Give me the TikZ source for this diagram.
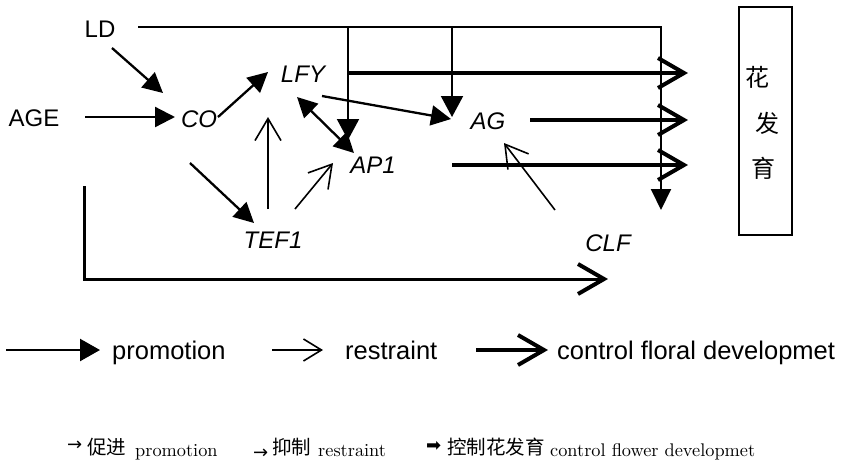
\documentclass[tikz,border=0pt]{standalone}
\usepackage{fontspec}
\setmainfont{Liberation Sans}
\newfontfamily\cjk{Noto Sans CJK SC}
\newfontfamily\lmr{lmroman10-regular}[Extension=.otf]
\newfontfamily\symf{DejaVu Sans}
\usetikzlibrary{arrows.meta}
\begin{document}
\begin{tikzpicture}[x=1pt,y=-1pt,
  lbl/.style={font=\fontsize{24}{24}\selectfont, inner sep=0pt},
  gene/.style={font=\fontsize{24}{24}\selectfont\itshape, inner sep=0pt},
  leg/.style={font=\fontsize{25.5}{26}\selectfont, inner sep=0pt, anchor=base west},
  leg2/.style={font=\fontsize{18.3}{19}\selectfont\lmr, inner sep=0pt, anchor=base west},
  cjkt/.style={font=\fontsize{19.5}{20}\selectfont\cjk, inner sep=0pt, anchor=west},
  promo/.style={line width=2.3pt, line join=miter, -{Triangle[length=20pt,width=20pt]}},
  promo2/.style={line width=2.3pt, {Triangle[length=20pt,width=20pt]}-{Triangle[length=20pt,width=20pt]}},
  restr/.style={line width=1.6pt, -{Straight Barb[length=22pt,width=26pt,line width=1.6pt]}},
  ctrl/.style={line width=4pt, line join=miter, -{Straight Barb[length=26pt,width=30pt,line width=4pt]}},
  thinl/.style={line width=2pt, line join=miter},
]
\useasboundingbox (0,0) rectangle (846,467);

% labels
\node[lbl]  (LD)  at (100,29)  {LD};
\node[lbl]  (AGE) at (34,118)  {AGE};
\node[gene] (CO)  at (199,119) {CO};
\node[gene] (LFY) at (303,74)  {LFY};
\node[gene] (AP1) at (373,165) {AP1};
\node[gene] (TEF) at (273,240) {TEF1};
\node[gene] (AG)  at (488,121) {AG};
\node[gene] (CLF) at (608,243) {CLF};

% box
\node[draw, line width=1.2pt, minimum width=53pt, minimum height=228pt, inner sep=0pt] (box) at (765.5,121) {};
\node[font=\fontsize{24}{24}\selectfont\cjk, inner sep=0pt] (h1) at (757,77)  {花};
\node[font=\fontsize{24}{24}\selectfont\cjk, inner sep=0pt] (h2) at (767,123) {发};
\node[font=\fontsize{24}{24}\selectfont\cjk, inner sep=0pt] (h3) at (763,168) {育};

% coordinates
\coordinate (ldS) at (138,27);
\coordinate (ldE) at (661,210);
\coordinate (b1) at (348,27);
\coordinate (b1e) at (348,140);
\coordinate (b2) at (452,27);
\coordinate (b2e) at (452,117);
\coordinate (lfyS) at (348,73);
\coordinate (lfyE) at (688,73);
\coordinate (agS) at (530,120);
\coordinate (agE) at (688,120);
\coordinate (ap1S) at (452,165);
\coordinate (ap1E) at (688,165);
\coordinate (lfyAgS) at (322,96);
\coordinate (lfyAgE) at (451,119);
\coordinate (lfyApA) at (297,97);
\coordinate (lfyApB) at (354,153);
\coordinate (ageS) at (85,117);
\coordinate (ageE) at (175,117);
\coordinate (ldcS) at (112,48);
\coordinate (ldcE) at (163,93);
\coordinate (coLS) at (218,117);
\coordinate (coLE) at (268,72);
\coordinate (coTS) at (190,163);
\coordinate (coTE) at (254,223);
\coordinate (tLS) at (268,209);
\coordinate (tLE) at (268,117);
\coordinate (tAS) at (295,209);
\coordinate (tAE) at (333,163);
\coordinate (cAS) at (555,210);
\coordinate (cAE) at (504,143);
\coordinate (botS) at (84,186);
\coordinate (botE) at (608,279);

% connectors
\draw[thinl, -{Triangle[length=21pt,width=20pt]}] (ldS) -| (ldE);
\draw[thinl, -{Triangle[length=21pt,width=22pt]}] (b1) -- (b1e);
\draw[thinl, -{Triangle[length=21pt,width=22pt]}] (b2) -- (b2e);
\draw[ctrl] (lfyS) -- (lfyE);
\draw[ctrl] (agS) -- (agE);
\draw[ctrl] (ap1S) -- (ap1E);
\draw[promo] (lfyAgS) -- (lfyAgE);
\draw[promo2] (lfyApA) -- (lfyApB);
\draw[promo] (ageS) -- (ageE);
\draw[promo] (ldcS) -- (ldcE);
\draw[promo] (coLS) -- (coLE);
\draw[promo] (coTS) -- (coTE);
\draw[restr] (tLS) -- (tLE);
\draw[restr] (tAS) -- (tAE);
\draw[restr] (cAS) -- (cAE);
\draw[ctrl, line width=3pt] (botS) |- (botE);

% legend row 1
\coordinate (l1s) at (6,350);  \coordinate (l1e) at (100,350);
\coordinate (l2s) at (272,350); \coordinate (l2e) at (323,350);
\coordinate (l3s) at (476,350); \coordinate (l3e) at (548,350);
\draw[promo, line width=2.4pt, -{Triangle[length=20pt,width=22pt]}] (l1s) -- (l1e);
\draw[restr, -{Straight Barb[length=18pt,width=22pt,line width=1.6pt]}] (l2s) -- (l2e);
\draw[ctrl, line width=4.5pt] (l3s) -- (l3e);
\node[leg] (t1) at (112,359) {promotion};
\node[leg] (t2) at (345,359) {restraint};
\node[leg] (t3) at (557,359) {control floral developmet};

% legend row 2
\node[font=\fontsize{18}{18}\selectfont\symf, inner sep=0pt, anchor=west] (a1) at (67,446) {→};
\node[cjkt] (c1) at (87,447) {促进};
\node[leg2] (e1) at (135,456) {promotion};
\node[font=\fontsize{18}{18}\selectfont\symf, inner sep=0pt, anchor=west] (a2) at (253,454) {→};
\node[cjkt] (c2) at (272,447) {抑制};
\node[leg2] (e2) at (318,456) {restraint};
\node[font=\fontsize{18}{18}\selectfont\symf, inner sep=0pt, anchor=west] (a3) at (426,446) {➡};
\node[cjkt] (c3) at (447,447) {控制花发育};
\node[leg2] (e3) at (550,456) {control flower developmet};
\end{tikzpicture}
\end{document}
